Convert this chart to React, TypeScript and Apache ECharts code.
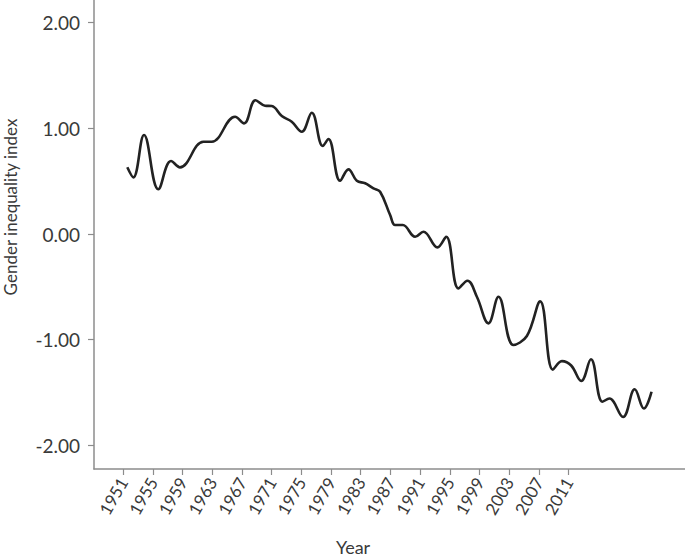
import React, { useEffect, useRef } from "react";
import * as echarts from "echarts";

const years: number[] = [
  1951.54, 1952.35, 1953.79, 1955.72, 1957.43, 1958.64, 1961.79, 1962.92, 1966.06, 1967.27,
  1968.82, 1970.1, 1971.01, 1972.36, 1973.7, 1975.05, 1976.4, 1977.88, 1978.64, 1980.22,
  1981.34, 1982.47, 1983.59, 1984.71, 1985.61, 1986.96, 1987.63, 1988.67, 1990.33, 1991.45,
  1993.34, 1994.51, 1996.17, 1997.38, 1998.65, 2000.21, 2001.56, 2003.58, 2005.39, 2007.18,
  2008.89, 2010.11, 2011.36, 2012.71, 2014.02, 2015.57, 2016.51, 2018.35, 2019.92, 2021.16,
  2022.19,
];
const values: number[] = [
  0.631, 0.536, 0.937, 0.423, 0.691, 0.631, 0.873, 0.873, 1.11, 1.047,
  1.265, 1.214, 1.211, 1.116, 1.062, 0.968, 1.148, 0.833, 0.899, 0.504,
  0.612, 0.504, 0.48, 0.432, 0.4, 0.18, 0.085, 0.085, -0.026, 0.022,
  -0.126, -0.026, -0.514, -0.442, -0.593, -0.845, -0.593, -1.05, -0.965, -0.637,
  -1.284, -1.202, -1.244, -1.391, -1.185, -1.587, -1.556, -1.731, -1.469, -1.651,
  -1.492,
];
const xTickYears: number[] = [
  1951, 1955, 1959, 1963, 1967, 1971, 1975, 1979, 1983, 1987, 1991, 1995, 1999, 2003, 2007, 2011,
];
const yTicks: number[] = [-2, -1, 0, 1, 2];

const FONT = "Lato, 'Open Sans', sans-serif";
const TEXT = "#3a3a3a";
const AXIS = "#8c8c8c";

export default function App() {
  const ref = useRef<HTMLDivElement>(null);
  useEffect(() => {
    if (!ref.current) return;
    const chart = echarts.init(ref.current, null, { renderer: "svg" });
    chart.setOption({
      animation: false,
      backgroundColor: "#ffffff",
      grid: {
        left: 94,
        right: 0,
        top: 0,
        bottom: 89,
        containLabel: false,
        outerBoundsMode: "none",
      },
      xAxis: {
        type: "value",
        min: 1947.05,
        max: 2026.7,
        splitLine: { show: false },
        axisLine: { show: true, onZero: false, lineStyle: { color: AXIS, width: 1.5 } },
        axisTick: {
          show: true,
          customValues: xTickYears,
          length: 6,
          lineStyle: { color: AXIS, width: 1.2 },
        },
        axisLabel: {
          customValues: xTickYears,
          rotate: 60,
          margin: 10,
          color: TEXT,
          fontFamily: FONT,
          fontSize: 17,
          formatter: (v: number) => String(Math.round(v)),
        },
      },
      yAxis: {
        type: "value",
        min: -2.223,
        max: 2.214,
        splitLine: { show: false },
        axisLine: { show: true, onZero: false, lineStyle: { color: AXIS, width: 1.5 } },
        axisTick: {
          show: true,
          customValues: yTicks,
          length: 6,
          lineStyle: { color: AXIS, width: 1.2 },
        },
        axisLabel: {
          customValues: yTicks,
          margin: 14,
          color: TEXT,
          fontFamily: FONT,
          fontSize: 19,
          formatter: (v: number) => v.toFixed(2),
        },
      },
      graphic: [
        {
          type: "text",
          x: 10,
          y: 207,
          rotation: Math.PI / 2,
          style: {
            text: "Gender inequality index",
            align: "center",
            verticalAlign: "middle",
            fill: TEXT,
            font: `17px ${FONT}`,
          },
        },
        {
          type: "text",
          x: 353,
          y: 547,
          style: {
            text: "Year",
            align: "center",
            verticalAlign: "middle",
            fill: TEXT,
            font: `18px ${FONT}`,
          },
        },
      ],
      series: [
        {
          type: "line",
          data: years.map((y, i) => [y, values[i]]),
          smooth: 0.4,
          showSymbol: false,
          lineStyle: { color: "#222222", width: 2.6 },
        },
      ],
    });
    return () => chart.dispose();
  }, []);
  return (
    <div
      ref={ref}
      style={{ position: "absolute", left: 0, top: 0, width: 685, height: 558 }}
    />
  );
}
